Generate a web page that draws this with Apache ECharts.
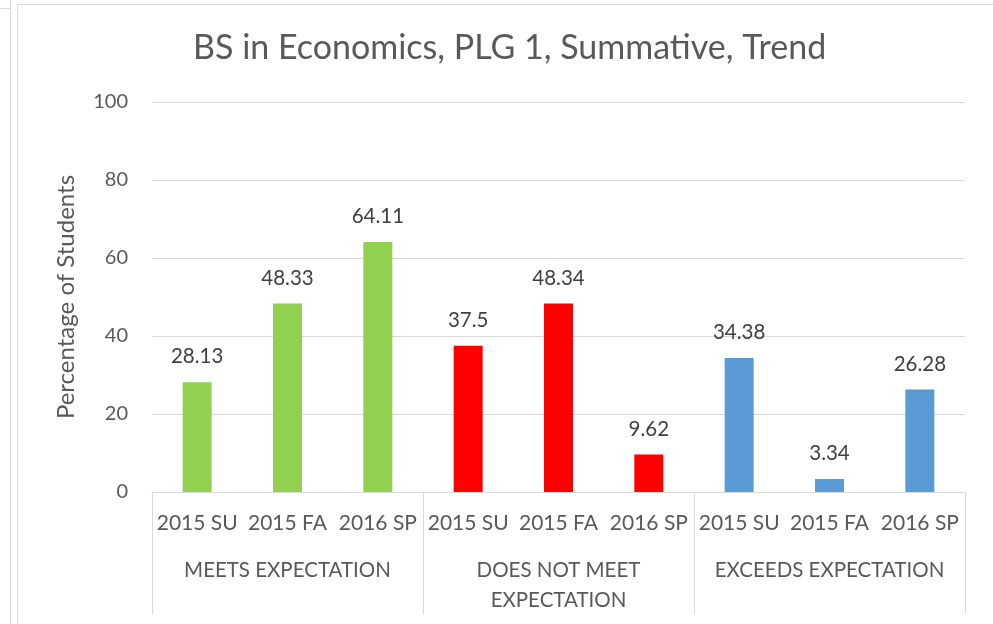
<!DOCTYPE html>
<html>
<head>
<meta charset="utf-8">
<script src="https://cdn.jsdelivr.net/npm/echarts@6/dist/echarts.min.js"></script>
<style>
  html, body { margin: 0; padding: 0; background: #fff; }
  #chart { width: 993px; height: 624px; }
</style>
</head>
<body>
<div id="chart"></div>
<script>
// 数据
var terms = ["2015 SU", "2015 FA", "2016 SP", "2015 SU", "2015 FA", "2016 SP", "2015 SU", "2015 FA", "2016 SP"];
var groups = ["MEETS EXPECTATION", "DOES NOT MEET\nEXPECTATION", "EXCEEDS EXPECTATION"];
var values = [28.13, 48.33, 64.11, 37.5, 48.34, 9.62, 34.38, 3.34, 26.28];
var groupColors = ["#92D050", "#FF0000", "#5B9BD5"];

var font = "Lato, 'Open Sans', sans-serif";
var gray = "#595959";
var lineGray = "#d9d9d9";

var barData = values.map(function (v, i) {
  return { value: v, itemStyle: { color: groupColors[Math.floor(i / 3)] } };
});

var myChart = echarts.init(document.getElementById("chart"));
myChart.setOption({
  animation: false,
  backgroundColor: "#fff",
  title: {
    text: "BS in Economics, PLG 1, Summative, Trend",
    left: 188,
    top: 26,
    textStyle: { fontFamily: font, fontSize: 34, fontWeight: "normal", color: gray }
  },
  graphic: [
    // 外框线
    { type: "line", shape: { x1: 10.5, y1: 0, x2: 10.5, y2: 624 }, style: { stroke: lineGray, lineWidth: 1 } },
    { type: "line", shape: { x1: 0, y1: 8.5, x2: 10.5, y2: 8.5 }, style: { stroke: lineGray, lineWidth: 1 } },
    { type: "line", shape: { x1: 17.5, y1: 4.5, x2: 17.5, y2: 624 }, style: { stroke: lineGray, lineWidth: 1 } },
    { type: "line", shape: { x1: 17.5, y1: 4.5, x2: 993, y2: 4.5 }, style: { stroke: lineGray, lineWidth: 1 } }
  ],
  grid: { left: 152, right: 28, top: 102, bottom: 132, containLabel: false },
  xAxis: [
    {
      type: "category",
      data: terms,
      position: "bottom",
      axisLine: { show: true, lineStyle: { color: lineGray, width: 1 } },
      axisTick: { show: false },
      axisLabel: { color: gray, fontFamily: font, fontSize: 21, margin: 21, interval: 0 }
    },
    {
      type: "category",
      data: groups,
      position: "bottom",
      axisLine: { show: false },
      axisTick: { show: true, length: 122, lineStyle: { color: lineGray, width: 1 } },
      axisLabel: { color: gray, fontFamily: font, fontSize: 20.5, lineHeight: 30, margin: 63, interval: 0 }
    }
  ],
  yAxis: {
    type: "value",
    min: 0,
    max: 100,
    interval: 20,
    name: "Percentage of Students",
    nameLocation: "middle",
    nameGap: 74,
    nameTextStyle: { color: gray, fontFamily: font, fontSize: 24 },
    axisLine: { show: false },
    axisTick: { show: false },
    axisLabel: { color: gray, fontFamily: font, fontSize: 20, margin: 24 },
    splitLine: { lineStyle: { color: lineGray, width: 1 } }
  },
  series: [
    {
      type: "bar",
      xAxisIndex: 0,
      data: barData,
      barWidth: 29,
      label: {
        show: true,
        position: "top",
        distance: 15,
        color: "#404040",
        fontFamily: font,
        fontSize: 20.5
      }
    }
  ]
});
</script>
</body>
</html>
